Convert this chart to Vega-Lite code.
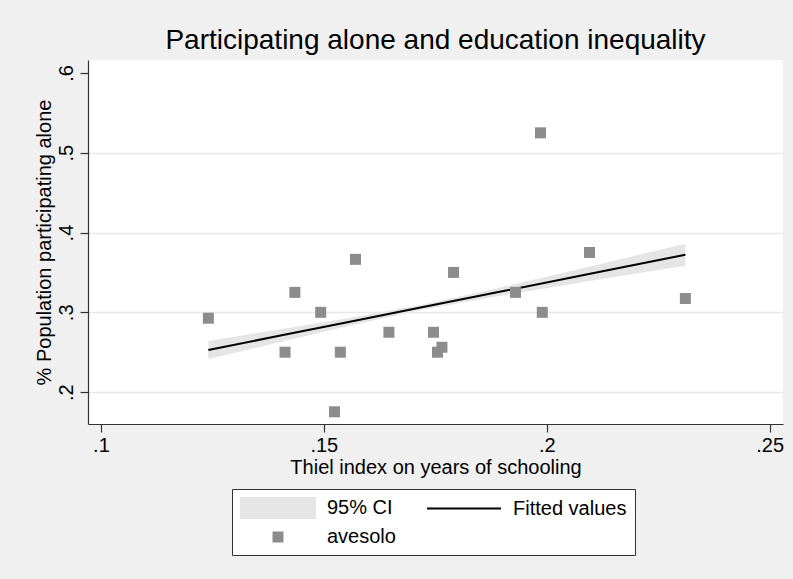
{
  "$schema": "https://vega.github.io/schema/vega-lite/v6.json",
  "width": 695,
  "height": 364,
  "autosize": {"type": "none"},
  "padding": {"left": 88, "top": 60, "right": 10, "bottom": 155},
  "background": "#f0f0f0",
  "title": {
    "text": "Participating alone and education inequality",
    "font": "Liberation Sans",
    "fontSize": 28,
    "fontWeight": "normal",
    "color": "#000000",
    "anchor": "middle",
    "frame": "group",
    "offset": 5
  },
  "datasets": {
    "points": [
      {"thiel": 0.1241, "avesolo": 0.2926, "series": "avesolo"},
      {"thiel": 0.1413, "avesolo": 0.25, "series": "avesolo"},
      {"thiel": 0.1435, "avesolo": 0.325, "series": "avesolo"},
      {"thiel": 0.1493, "avesolo": 0.3, "series": "avesolo"},
      {"thiel": 0.1524, "avesolo": 0.1753, "series": "avesolo"},
      {"thiel": 0.1537, "avesolo": 0.25, "series": "avesolo"},
      {"thiel": 0.1571, "avesolo": 0.3664, "series": "avesolo"},
      {"thiel": 0.1646, "avesolo": 0.275, "series": "avesolo"},
      {"thiel": 0.1746, "avesolo": 0.275, "series": "avesolo"},
      {"thiel": 0.1755, "avesolo": 0.25, "series": "avesolo"},
      {"thiel": 0.1765, "avesolo": 0.2562, "series": "avesolo"},
      {"thiel": 0.1791, "avesolo": 0.35, "series": "avesolo"},
      {"thiel": 0.193, "avesolo": 0.325, "series": "avesolo"},
      {"thiel": 0.1986, "avesolo": 0.525, "series": "avesolo"},
      {"thiel": 0.199, "avesolo": 0.3, "series": "avesolo"},
      {"thiel": 0.2096, "avesolo": 0.375, "series": "avesolo"},
      {"thiel": 0.2311, "avesolo": 0.3173, "series": "avesolo"}
    ],
    "fit": [
      {"thiel": 0.1241, "fitted": 0.2528, "lo": 0.2415, "hi": 0.2641},
      {"thiel": 0.14, "fitted": 0.2705, "lo": 0.2626, "hi": 0.2784},
      {"thiel": 0.155, "fitted": 0.2873, "lo": 0.2822, "hi": 0.2924},
      {"thiel": 0.172, "fitted": 0.3063, "lo": 0.3031, "hi": 0.3095},
      {"thiel": 0.19, "fitted": 0.3263, "lo": 0.3211, "hi": 0.3315},
      {"thiel": 0.21, "fitted": 0.3487, "lo": 0.3395, "hi": 0.3579},
      {"thiel": 0.2311, "fitted": 0.3722, "lo": 0.3584, "hi": 0.386}
    ]
  },
  "encoding": {
    "x": {
      "field": "thiel",
      "type": "quantitative",
      "scale": {"domain": [0.0971, 0.253], "nice": false, "zero": false},
      "axis": {
        "title": "Thiel index on years of schooling",
        "values": [0.1, 0.15, 0.2, 0.25],
        "labelExpr": "substring(format(datum.value, '.2~f'), 1)",
        "grid": false,
        "tickSize": 8,
        "labelPadding": 3,
        "titlePadding": 2
      }
    }
  },
  "layer": [
    {
      "data": {"name": "fit"},
      "mark": {"type": "area", "color": "#e5e5e5", "opacity": 1},
      "encoding": {
        "y": {
          "field": "lo",
          "type": "quantitative",
          "scale": {"domain": [0.16, 0.6163], "nice": false, "zero": false},
          "axis": {
            "title": "% Population participating alone",
            "values": [0.2, 0.3, 0.4, 0.5, 0.6],
            "labelExpr": "substring(format(datum.value, '.2~f'), 1)",
            "labelAngle": -90,
            "labelAlign": "center",
            "labelBaseline": "alphabetic",
            "labelPadding": 8,
            "tickSize": 8,
            "titlePadding": 2,
            "grid": true,
            "gridColor": "#e8e8e8",
            "gridWidth": 1.5,
            "gridOpacity": {"condition": {"test": "datum.value > 0.59", "value": 0}, "value": 1}
          }
        },
        "y2": {"field": "hi"}
      }
    },
    {
      "data": {"name": "fit"},
      "mark": {"type": "line", "color": "#000000", "strokeWidth": 2},
      "encoding": {
        "y": {"field": "fitted", "type": "quantitative"}
      }
    },
    {
      "data": {"name": "points"},
      "mark": {"type": "point", "filled": true, "opacity": 1, "size": 484},
      "encoding": {
        "y": {"field": "avesolo", "type": "quantitative"},
        "color": {
          "field": "series",
          "type": "nominal",
          "scale": {
            "domain": ["95% CI", "Fitted values", "avesolo"],
            "range": ["#e5e5e5", "#000000", "#8c8c8c"]
          },
          "legend": {
            "title": null,
            "orient": "none",
            "direction": "horizontal",
            "legendX": 144,
            "legendY": 429,
            "columns": 2,
            "encode": {
              "symbols": {
                "update": {
                  "fill": {"scale": "color", "field": "value"},
                  "strokeWidth": {"value": 0},
                  "opacity": {"value": 1}
                }
              }
            }
          }
        },
        "shape": {
          "field": "series",
          "type": "nominal",
          "scale": {
            "domain": ["95% CI", "Fitted values", "avesolo"],
            "range": [
              "M-3.45,-1H3.45V1H-3.45Z",
              "M-3.36,-0.08H3.36V0.08H-3.36Z",
              "M-0.5,-0.5H0.5V0.5H-0.5Z"
            ]
          },
          "legend": {
            "title": null,
            "orient": "none",
            "direction": "horizontal",
            "legendX": 144,
            "legendY": 429,
            "columns": 2
          }
        }
      }
    }
  ],
  "config": {
    "font": "Liberation Sans",
    "view": {"fill": "#ffffff", "stroke": null},
    "axis": {
      "labelFont": "Liberation Sans",
      "titleFont": "Liberation Sans",
      "labelFontSize": 20,
      "titleFontSize": 20,
      "titleFontWeight": "normal",
      "labelColor": "#000000",
      "titleColor": "#000000",
      "domainColor": "#333333",
      "tickColor": "#333333",
      "domainWidth": 1.2,
      "tickWidth": 1.2
    },
    "legend": {
      "labelFont": "Liberation Sans",
      "labelFontSize": 20,
      "labelColor": "#000000",
      "symbolSize": 484,
      "symbolStrokeWidth": 0,
      "symbolOffset": 27,
      "labelOffset": 38,
      "rowPadding": 7,
      "columnPadding": 30,
      "padding": 8,
      "strokeColor": "#333333",
      "fillColor": "#ffffff",
      "labelLimit": 300
    }
  }
}
